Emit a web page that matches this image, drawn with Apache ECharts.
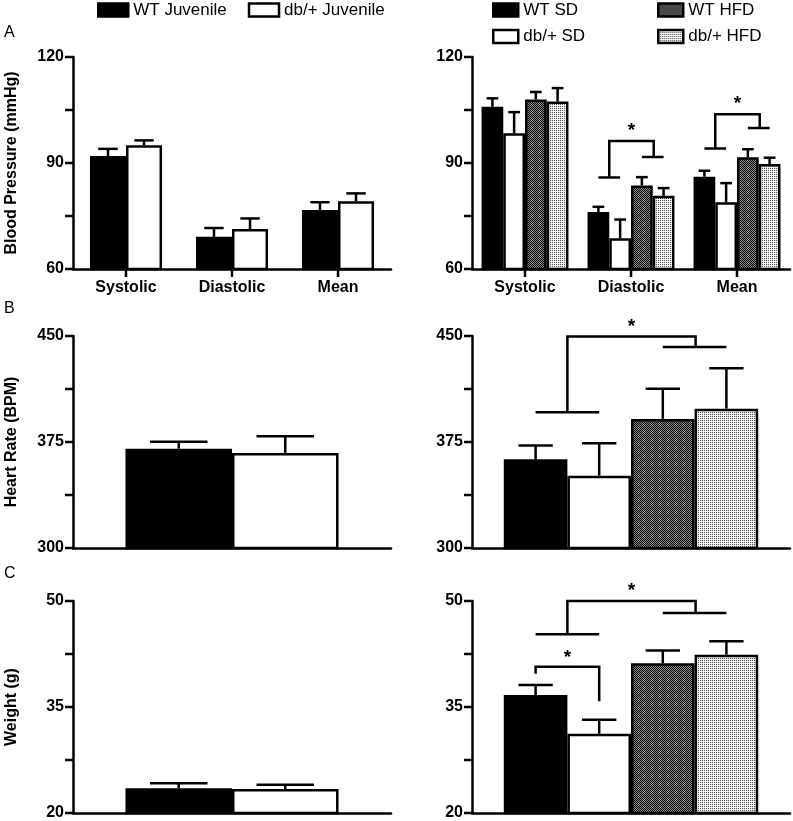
<!DOCTYPE html>
<html><head><meta charset="utf-8">
<script src="https://cdn.jsdelivr.net/npm/echarts@6/dist/echarts.min.js"></script>
<style>html,body{margin:0;padding:0;background:#fff}#chart{width:793px;height:821px}</style>
</head><body><div id="chart"></div>
<script>
// ---------------- DATA ----------------
const bpCategories = ['Systolic', 'Diastolic', 'Mean'];
const juvenileNames = ['WT Juvenile', 'db/+ Juvenile'];
const adultNames = ['WT SD', 'db/+ SD', 'WT HFD', 'db/+ HFD'];
const yTitles = ['Blood Pressure (mmHg)', 'Heart Rate (BPM)', 'Weight (g)'];
const panelLetters = ['A', 'B', 'C'];

// Panel A - blood pressure (mmHg)
const bpAxis = [60, 120];
const bpTickStep = 15;
const bpTickLabels = [60, 90, 120];
const bpJuvWT = [92.0, 69.1, 76.7];
const bpJuvWTSem = [2.0, 2.5, 2.2];
const bpJuvDb = [95.0, 71.3, 79.2];
const bpJuvDbSem = [1.4, 3.0, 2.2];
const bpWTSD = [105.9, 76.1, 86.1];
const bpWTSDSem = [2.4, 1.5, 1.7];
const bpDbSD = [98.4, 68.7, 78.9];
const bpDbSDSem = [6.0, 5.3, 5.4];
const bpWTHFD = [108.0, 83.6, 91.6];
const bpWTHFDSem = [2.1, 2.4, 2.3];
const bpDbHFD = [107.4, 80.7, 89.7];
const bpDbHFDSem = [3.8, 2.2, 1.8];
// group brackets: [category, leftY, topY, rightY]
const bpBrackets = [[1, 85.9, 96.2, 91.7], [2, 94.1, 103.8, 99.9]];

// Panel B - heart rate (BPM)
const hrAxis = [300, 450];
const hrTickStep = 37.5;
const hrTickLabels = [300, 375, 450];
const hrJuv = [370.3, 367.3];
const hrJuvSem = [4.9, 11.7];
const hrAdult = [362.8, 351.2, 391.3, 398.6];
const hrAdultSem = [9.7, 23.0, 21.3, 28.6];
const hrBrackets = [[0, 396.0, 449.6, 442.2]];

// Panel C - weight (g)
const wAxis = [20, 50];
const wTickStep = 7.5;
const wTickLabels = [20, 35, 50];
const wJuv = [23.5, 23.4];
const wJuvSem = [0.7, 0.6];
const wAdult = [36.7, 31.2, 41.2, 42.4];
const wAdultSem = [1.4, 2.0, 1.8, 1.9];
const wBrackets = [[0, 45.3, 50.0, 48.3]];
// pair brackets: [category, leftBar, leftY, rightBar, rightY, topY]
const wPairBrackets = [[0, 0, 39.7, 1, 35.8, 40.7]];

// ---------------- STYLE ----------------
const FONT = '"Liberation Sans", Arial, Helvetica, sans-serif';
const LW = 2.5;

function makePattern(cols) {
  const c = document.createElement('canvas');
  c.width = 2; c.height = 2;
  const ctx = c.getContext('2d');
  for (let y = 0; y < 2; y++) for (let x = 0; x < 2; x++) {
    ctx.fillStyle = cols[y][x]; ctx.fillRect(x, y, 1, 1);
  }
  return { image: c, repeat: 'repeat' };
}
const checker = makePattern([['#050505', '#8c8c8c'], ['#8c8c8c', '#050505']]);
const dots = makePattern([['#5a5a5a', '#ececec'], ['#ececec', '#ffffff']]);
const fillOf = {
  'WT Juvenile': '#000', 'db/+ Juvenile': '#fff',
  'WT SD': '#000', 'db/+ SD': '#fff', 'WT HFD': checker, 'db/+ HFD': dots
};

const rowTop = [57, 336, 601], rowH = 212;
const colLeft = [73, 472], colW = 318;

const grids = [], xAxes = [], yAxes = [], series = [];

function barCenter(api, cat, idx, n, gap) {
  const band = api.size([1, 0])[0];
  const bw = band * (1 - gap) / n;
  const cx = api.coord([cat, 0])[0];
  return cx + (idx - (n - 1) / 2) * bw;
}
function ls() { return { stroke: '#000', lineWidth: LW, fill: null, lineJoin: 'miter', lineCap: 'butt' }; }
function star(x, y) {
  return { type: 'text', style: { x: x, y: y, text: '*', fill: '#000', font: 'bold 19px ' + FONT, align: 'center', verticalAlign: 'middle' } };
}

function addPanel(o) {
  const gi = grids.length;
  grids.push({ left: colLeft[o.col], top: rowTop[o.row], width: colW, height: rowH });
  xAxes.push({
    type: 'category', gridIndex: gi, data: o.cats,
    axisLine: { show: true, onZero: false, lineStyle: { color: '#000', width: LW } },
    axisTick: { show: false },
    axisLabel: { show: o.showCat, margin: 11, color: '#000', fontWeight: 'bold', fontSize: 16, fontFamily: FONT }
  });
  yAxes.push({
    type: 'value', gridIndex: gi, min: o.range[0], max: o.range[1], interval: o.step,
    name: o.title || '', nameLocation: 'middle', nameGap: 53, nameRotate: 90,
    nameTextStyle: { color: '#000', fontWeight: 'bold', fontSize: 16, fontFamily: FONT },
    splitLine: { show: false },
    axisLine: { show: true, lineStyle: { color: '#000', width: LW } },
    axisTick: { show: false },
    axisLabel: { show: true, margin: 9, color: '#000', fontWeight: 'bold', fontSize: 16, fontFamily: FONT,
      formatter: function (v) { return o.labels.some(l => Math.abs(l - v) < 1e-6) ? String(v) : ''; } }
  });
  // axis tick marks (y: every step; x: category centres when labelled), placed through the axes' scales
  const tickVals = [];
  for (let v = o.range[0]; v <= o.range[1] + 1e-9; v += o.step) tickVals.push(v);
  series.push({
    type: 'custom', name: 'yticks-' + gi, xAxisIndex: gi, yAxisIndex: gi, z: 7, clip: false,
    encode: { x: 0, y: 1 }, data: tickVals.map(v => [0, v]),
    renderItem: function (params, api) {
      const p = api.coord([0, api.value(1)]);
      const ax = p[0] - api.size([1, 0])[0] / 2;
      return { type: 'line', shape: { x1: ax - 8, y1: p[1], x2: ax, y2: p[1] }, style: ls() };
    }
  });
  if (o.showCat) {
    series.push({
      type: 'custom', name: 'xticks-' + gi, xAxisIndex: gi, yAxisIndex: gi, z: 7, clip: false,
      encode: { x: 0, y: 1 }, data: o.cats.map((c, i) => [i, o.range[0]]),
      renderItem: function (params, api) {
        const p = api.coord([api.value(0), o.range[0]]);
        return { type: 'line', shape: { x1: p[0], y1: p[1], x2: p[0], y2: p[1] + 8 }, style: ls() };
      }
    });
  }
  const n = o.names.length;
  o.names.forEach((name, si) => {
    series.push({
      type: 'bar', name: name, xAxisIndex: gi, yAxisIndex: gi,
      data: o.values[si], barGap: '0%', barCategoryGap: (o.gap * 100) + '%',
      itemStyle: { color: fillOf[name], borderColor: '#000', borderWidth: LW },
      emphasis: { disabled: true }, z: 2
    });
  });
  o.names.forEach((name, si) => {
    series.push({
      type: 'custom', name: 'err-' + gi + '-' + si, xAxisIndex: gi, yAxisIndex: gi, z: 5, clip: false,
      encode: { x: 0, y: 1 },
      data: o.values[si].map((v, ci) => [ci, v, o.sems[si][ci]]),
      renderItem: function (params, api) {
        const cat = api.value(0), mean = api.value(1), sem = api.value(2);
        const band = api.size([1, 0])[0];
        const bw = band * (1 - o.gap) / n;
        const x = barCenter(api, cat, si, n, o.gap);
        const yb = api.coord([cat, mean])[1];
        const yt = api.coord([cat, mean + sem])[1];
        const half = bw * 0.27;
        return { type: 'group', children: [
          { type: 'line', shape: { x1: x, y1: yb, x2: x, y2: yt }, style: ls() },
          { type: 'line', shape: { x1: x - half, y1: yt, x2: x + half, y2: yt }, style: ls() }
        ] };
      }
    });
  });
  if (o.brackets && o.brackets.length) {
    series.push({
      type: 'custom', name: 'br-' + gi, xAxisIndex: gi, yAxisIndex: gi, z: 6, clip: false,
      encode: { x: 0, y: 1 }, data: o.brackets,
      renderItem: function (params, api) {
        const cat = api.value(0);
        const ly = api.coord([cat, api.value(1)])[1];
        const ty = api.coord([cat, api.value(2)])[1];
        const ry = api.coord([cat, api.value(3)])[1];
        const x0 = barCenter(api, cat, 0, n, o.gap), x1 = barCenter(api, cat, 1, n, o.gap);
        const x2 = barCenter(api, cat, 2, n, o.gap), x3 = barCenter(api, cat, 3, n, o.gap);
        const lm = (x0 + x1) / 2, rm = (x2 + x3) / 2 + 1;
        return { type: 'group', children: [
          { type: 'line', shape: { x1: x0, y1: ly, x2: x1, y2: ly }, style: ls() },
          { type: 'polyline', shape: { points: [[lm, ly], [lm, ty], [rm, ty], [rm, ry]] }, style: ls() },
          { type: 'line', shape: { x1: x2, y1: ry, x2: x3, y2: ry }, style: ls() },
          star((lm + rm) / 2, ty - 10)
        ] };
      }
    });
  }
  if (o.pairs && o.pairs.length) {
    series.push({
      type: 'custom', name: 'pair-' + gi, xAxisIndex: gi, yAxisIndex: gi, z: 6, clip: false,
      encode: { x: 0, y: 2 }, data: o.pairs,
      renderItem: function (params, api) {
        const cat = api.value(0);
        const xa = barCenter(api, cat, api.value(1), n, o.gap);
        const xb = barCenter(api, cat, api.value(3), n, o.gap);
        const ya = api.coord([cat, api.value(2)])[1];
        const yb = api.coord([cat, api.value(4)])[1];
        const yt = api.coord([cat, api.value(5)])[1];
        return { type: 'group', children: [
          { type: 'polyline', shape: { points: [[xa, ya], [xa, yt], [xb, yt], [xb, yb]] }, style: ls() },
          star((xa + xb) / 2, yt - 9)
        ] };
      }
    });
  }
}

// Row A
addPanel({ row: 0, col: 0, cats: bpCategories, names: juvenileNames, gap: 0.32,
  values: [bpJuvWT, bpJuvDb], sems: [bpJuvWTSem, bpJuvDbSem],
  range: bpAxis, step: bpTickStep, labels: bpTickLabels, title: yTitles[0], showCat: true });
addPanel({ row: 0, col: 1, cats: bpCategories, names: adultNames, gap: 0.18,
  values: [bpWTSD, bpDbSD, bpWTHFD, bpDbHFD], sems: [bpWTSDSem, bpDbSDSem, bpWTHFDSem, bpDbHFDSem],
  range: bpAxis, step: bpTickStep, labels: bpTickLabels, showCat: true, brackets: bpBrackets });
// Row B
addPanel({ row: 1, col: 0, cats: [''], names: juvenileNames, gap: 0.33,
  values: hrJuv.map(v => [v]), sems: hrJuvSem.map(v => [v]),
  range: hrAxis, step: hrTickStep, labels: hrTickLabels, title: yTitles[1], showCat: false });
addPanel({ row: 1, col: 1, cats: [''], names: adultNames, gap: 0.2,
  values: hrAdult.map(v => [v]), sems: hrAdultSem.map(v => [v]),
  range: hrAxis, step: hrTickStep, labels: hrTickLabels, showCat: false, brackets: hrBrackets });
// Row C
addPanel({ row: 2, col: 0, cats: [''], names: juvenileNames, gap: 0.33,
  values: wJuv.map(v => [v]), sems: wJuvSem.map(v => [v]),
  range: wAxis, step: wTickStep, labels: wTickLabels, title: yTitles[2], showCat: false });
addPanel({ row: 2, col: 1, cats: [''], names: adultNames, gap: 0.2,
  values: wAdult.map(v => [v]), sems: wAdultSem.map(v => [v]),
  range: wAxis, step: wTickStep, labels: wTickLabels, showCat: false, brackets: wBrackets, pairs: wPairBrackets });

const legendText = { color: '#000', fontSize: 17, fontFamily: FONT, lineHeight: 18 };
const legendItem = { borderColor: '#000', borderWidth: LW };
const option = {
  animation: false,
  backgroundColor: '#fff',
  grid: grids, xAxis: xAxes, yAxis: yAxes, series: series,
  legend: [
    { data: [juvenileNames[0], juvenileNames[1]], left: 97, top: 1, padding: 0, itemWidth: 30, itemHeight: 13,
      itemGap: 21, icon: 'rect', textStyle: legendText, itemStyle: legendItem, selectedMode: false },
    { data: [adultNames[0], adultNames[1]], orient: 'vertical', left: 492, top: 1, padding: 0, itemWidth: 25, itemHeight: 13,
      itemGap: 8.5, icon: 'rect', textStyle: legendText, itemStyle: legendItem, selectedMode: false },
    { data: [adultNames[2], adultNames[3]], orient: 'vertical', left: 657, top: 1, padding: 0, itemWidth: 25, itemHeight: 13,
      itemGap: 8.5, icon: 'rect', textStyle: legendText, itemStyle: legendItem, selectedMode: false }
  ],
  graphic: panelLetters.map((t, i) => ({
    type: 'text', left: 4, top: [25, 301, 566][i],
    style: { text: t, fill: '#000', font: '16px ' + FONT }
  }))
};
const chart = echarts.init(document.getElementById('chart'), null, { renderer: 'canvas' });
chart.setOption(option);
</script></body></html>
